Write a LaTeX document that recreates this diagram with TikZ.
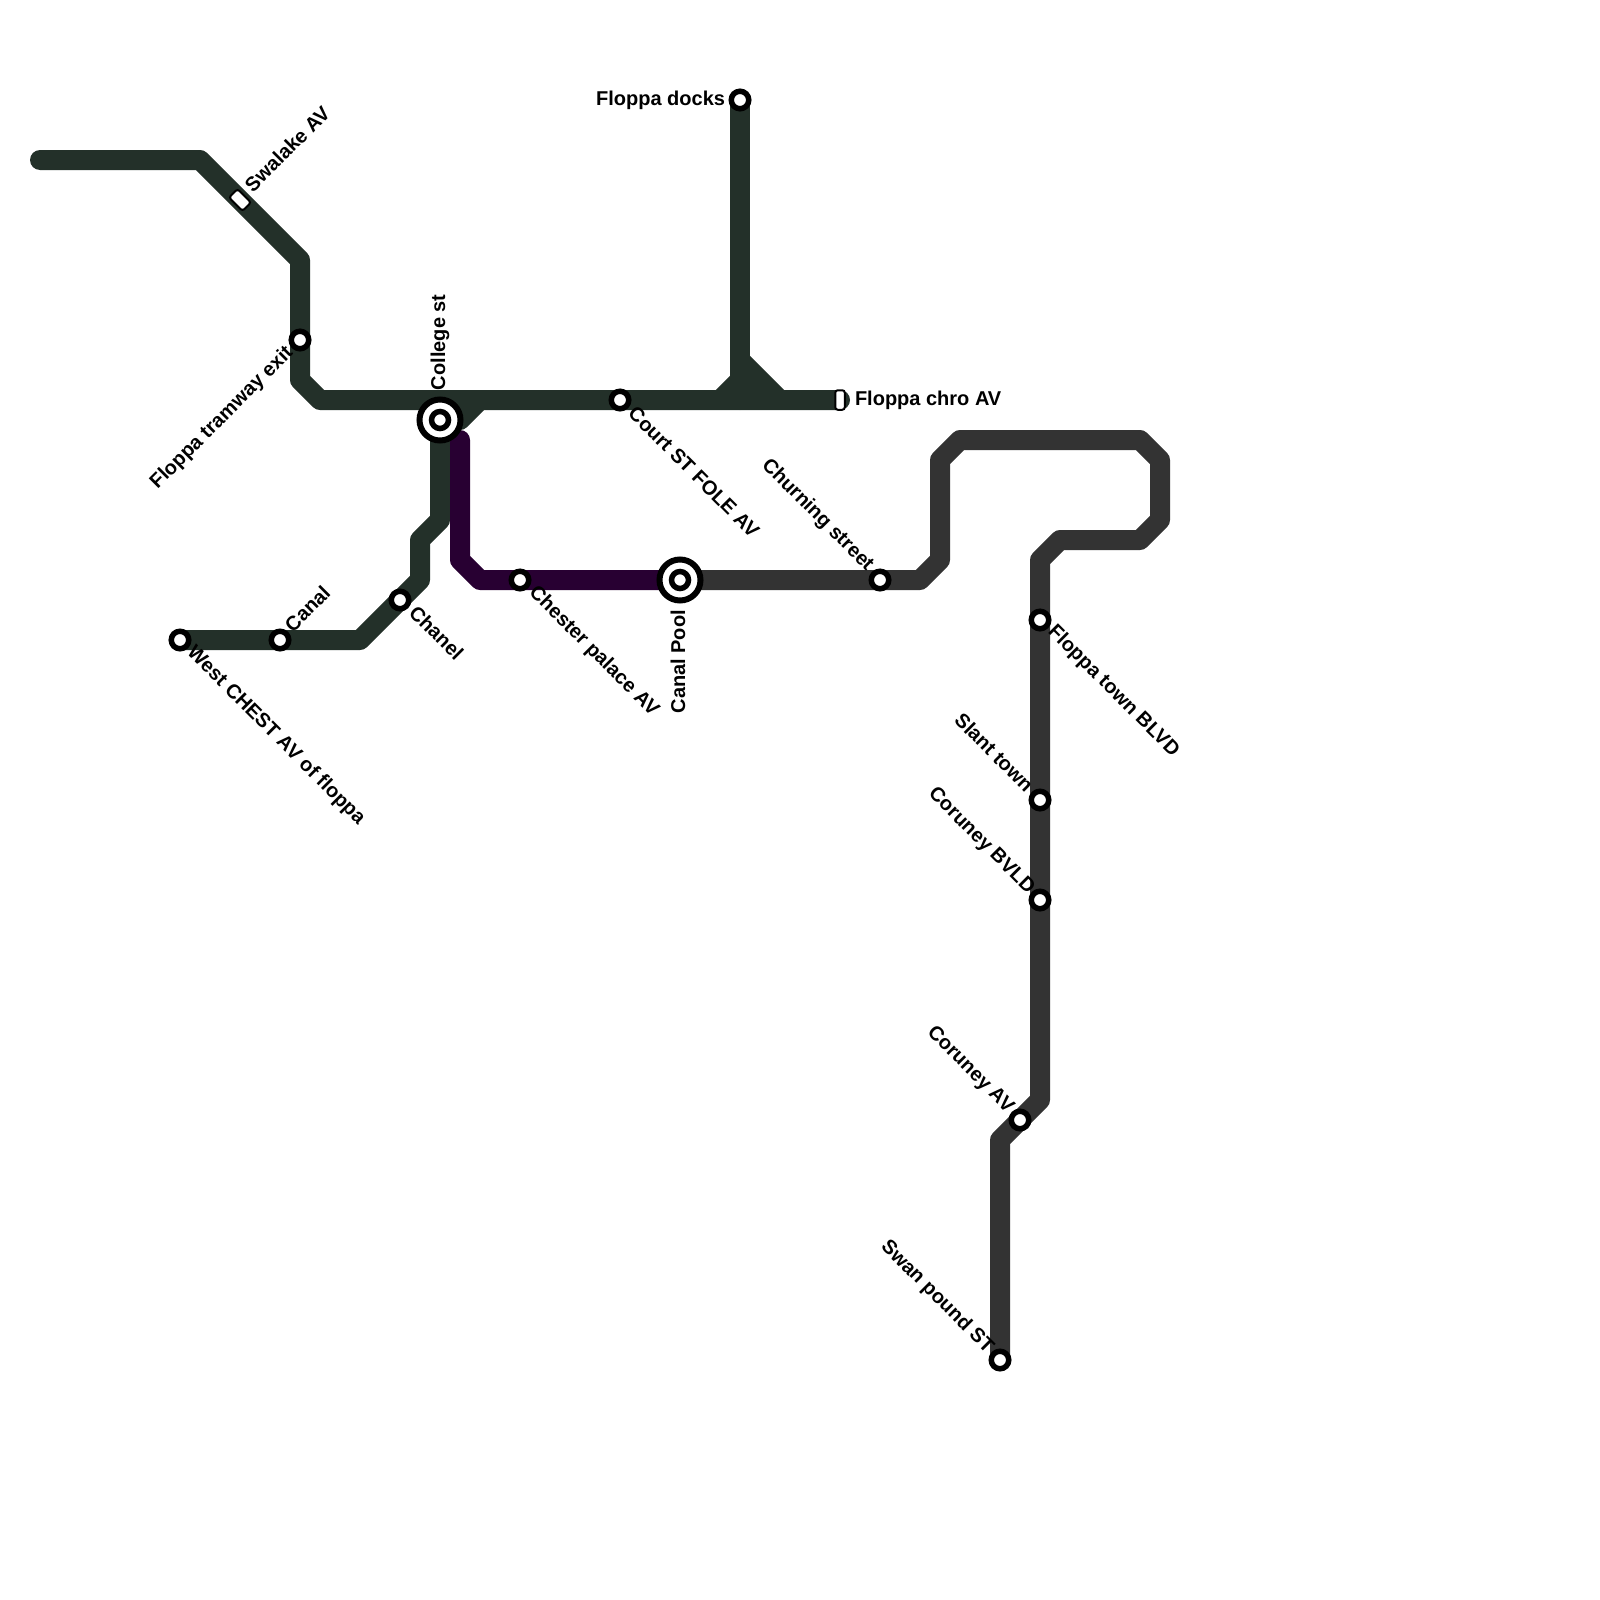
\documentclass[tikz,border=0pt]{standalone}
\usepackage{fontspec}
\setmainfont{Liberation Sans}
\definecolor{lgreen}{HTML}{233029}
\definecolor{lpurple}{HTML}{280032}
\definecolor{lgrey}{HTML}{333333}
\tikzset{
  tline/.style={line width=20pt,line join=round,line cap=round},
  stn/.style={circle,draw=black,fill=white,line width=5.5pt,minimum size=17.5pt,inner sep=0pt,outer sep=0pt},
  ichouter/.style={circle,draw=black,fill=white,line width=6pt,minimum size=41pt,inner sep=0pt,outer sep=0pt},
  ichinner/.style={circle,draw=black,fill=white,line width=5.5pt,minimum size=17pt,inner sep=0pt,outer sep=0pt},
  stopbox/.style={rectangle,rounded corners=2.5pt,draw=black,fill=white,line width=2pt,minimum width=9.5pt,minimum height=19.5pt,inner sep=0pt,outer sep=0pt},
  lbl/.style={font=\fontsize{20}{22}\selectfont\bfseries,text=black,inner sep=0pt,outer sep=0pt},
}
\begin{document}
\begin{tikzpicture}[x=1pt,y=-1pt]
\useasboundingbox (0,0) rectangle (1600,1600);
% bends
\foreach \n/\x/\y in {a0/40/160,a1/200/160,a2/300/260,a3/300/380,a4/320/400,
 b0/720/400,b1/740/380,b2/740/360,b3/780/400,b4/740/400,
 c1/440/520,c2/420/540,c3/420/580,c4/360/640,c5/460/420,c6/480/400,
 p0/460/440,p1/460/560,p2/480/580,
 g1/920/580,g2/940/560,g3/940/460,g4/960/440,g5/1140/440,g6/1160/460,g7/1160/520,g8/1140/540,g9/1060/540,g10/1040/560,g11/1040/1100,g12/1000/1140}
  {\coordinate (\n) at (\x,\y);}
% stations
\coordinate (Sdocks) at (740,100);
\coordinate (Sswal) at (240,200);
\coordinate (Stram) at (300,340);
\coordinate (Scoll) at (440,420);
\coordinate (Scourt) at (620,400);
\coordinate (Schro) at (840,400);
\coordinate (Schurn) at (880,580);
\coordinate (Spool) at (680,580);
\coordinate (Schest) at (520,580);
\coordinate (Schan) at (400,600);
\coordinate (Scanal) at (280,640);
\coordinate (Swest) at (180,640);
\coordinate (Stown) at (1040,620);
\coordinate (Sslant) at (1040,800);
\coordinate (Sbvld) at (1040,900);
\coordinate (Sav) at (1020,1120);
\coordinate (Sswan) at (1000,1360);
% lines
\draw[tline,lgreen] (a0)--(a1)--(a2)--(a3)--(a4)--(Schro);
\draw[tline,lgreen] (Sdocks)--(b4);
\draw[tline,lgreen,line cap=butt] (b1)--(b0);
\draw[tline,lgreen,line cap=butt] (b2)--(b3);
\fill[lgreen] (b2)--(b3)--(b0)--cycle;
\draw[tline,lgreen] (Swest)--(c4)--(c3)--(c2)--(c1)--(Scoll)--(c5)--(c6);
\draw[tline,lpurple] (p0)--(p1)--(p2)--(Spool);
\draw[tline,lgrey] (Spool)--(g1)--(g2)--(g3)--(g4)--(g5)--(g6)--(g7)--(g8)--(g9)--(g10)--(g11)--(g12)--(Sswan);
% station symbols
\node[stn] (nDocks) at (Sdocks) {};
\node[stopbox,rotate=45,minimum width=12pt,minimum height=19pt] (nSwal) at (Sswal) {};
\node[stn] (nTram) at (Stram) {};
\node[ichouter] (nColl) at (Scoll) {};
\node[ichinner] (nCollB) at (Scoll) {};
\node[stn] (nCourt) at (Scourt) {};
\node[stopbox] (nChro) at (Schro) {};
\node[stn] (nChurn) at (Schurn) {};
\node[ichouter] (nPool) at (Spool) {};
\node[ichinner] (nPoolB) at (Spool) {};
\node[stn] (nChest) at (Schest) {};
\node[stn] (nChan) at (Schan) {};
\node[stn] (nCanal) at (Scanal) {};
\node[stn] (nWest) at (Swest) {};
\node[stn] (nTown) at (Stown) {};
\node[stn] (nSlant) at (Sslant) {};
\node[stn] (nBvld) at (Sbvld) {};
\node[stn] (nAv) at (Sav) {};
\node[stn] (nSwan) at (Sswan) {};
% labels
\node[lbl,anchor=east] (tDocks) at (725,100) {Floppa docks};
\node[lbl,anchor=west,rotate=45] (tSwal) at (248,188) {Swalake AV};
\node[lbl,anchor=west,rotate=90] (tColl) at (440,390) {College st};
\node[lbl,anchor=east,rotate=45] (tTram) at (290,350) {Floppa tramway exit};
\node[lbl,anchor=west,rotate=-45] (tCourt) at (632,410) {Court ST FOLE AV};
\node[lbl,anchor=west] (tChro) at (855,400) {Floppa chro AV};
\node[lbl,anchor=east,rotate=-45] (tChurn) at (870,568) {Churning street};
\node[lbl,anchor=west,rotate=-45] (tChest) at (532,590) {Chester palace AV};
\node[lbl,anchor=east,rotate=90] (tPool) at (678,610) {Canal Pool};
\node[lbl,anchor=west,rotate=-45] (tChan) at (413,609) {Chanel};
\node[lbl,anchor=west,rotate=45] (tCanal) at (288,628) {Canal};
\node[lbl,anchor=west,rotate=-45] (tWest) at (190,650) {West CHEST AV of floppa};
\node[lbl,anchor=west,rotate=-45] (tTown) at (1051,629) {Floppa town BLVD};
\node[lbl,anchor=east,rotate=-45] (tSlant) at (1030,788) {Slant town};
\node[lbl,anchor=east,rotate=-45] (tBvld) at (1031,891) {Coruney BVLD};
\node[lbl,anchor=east,rotate=-45] (tAv) at (1010,1110) {Coruney AV};
\node[lbl,anchor=east,rotate=-45] (tSwan) at (990,1350) {Swan pound ST};
\end{tikzpicture}
\end{document}
